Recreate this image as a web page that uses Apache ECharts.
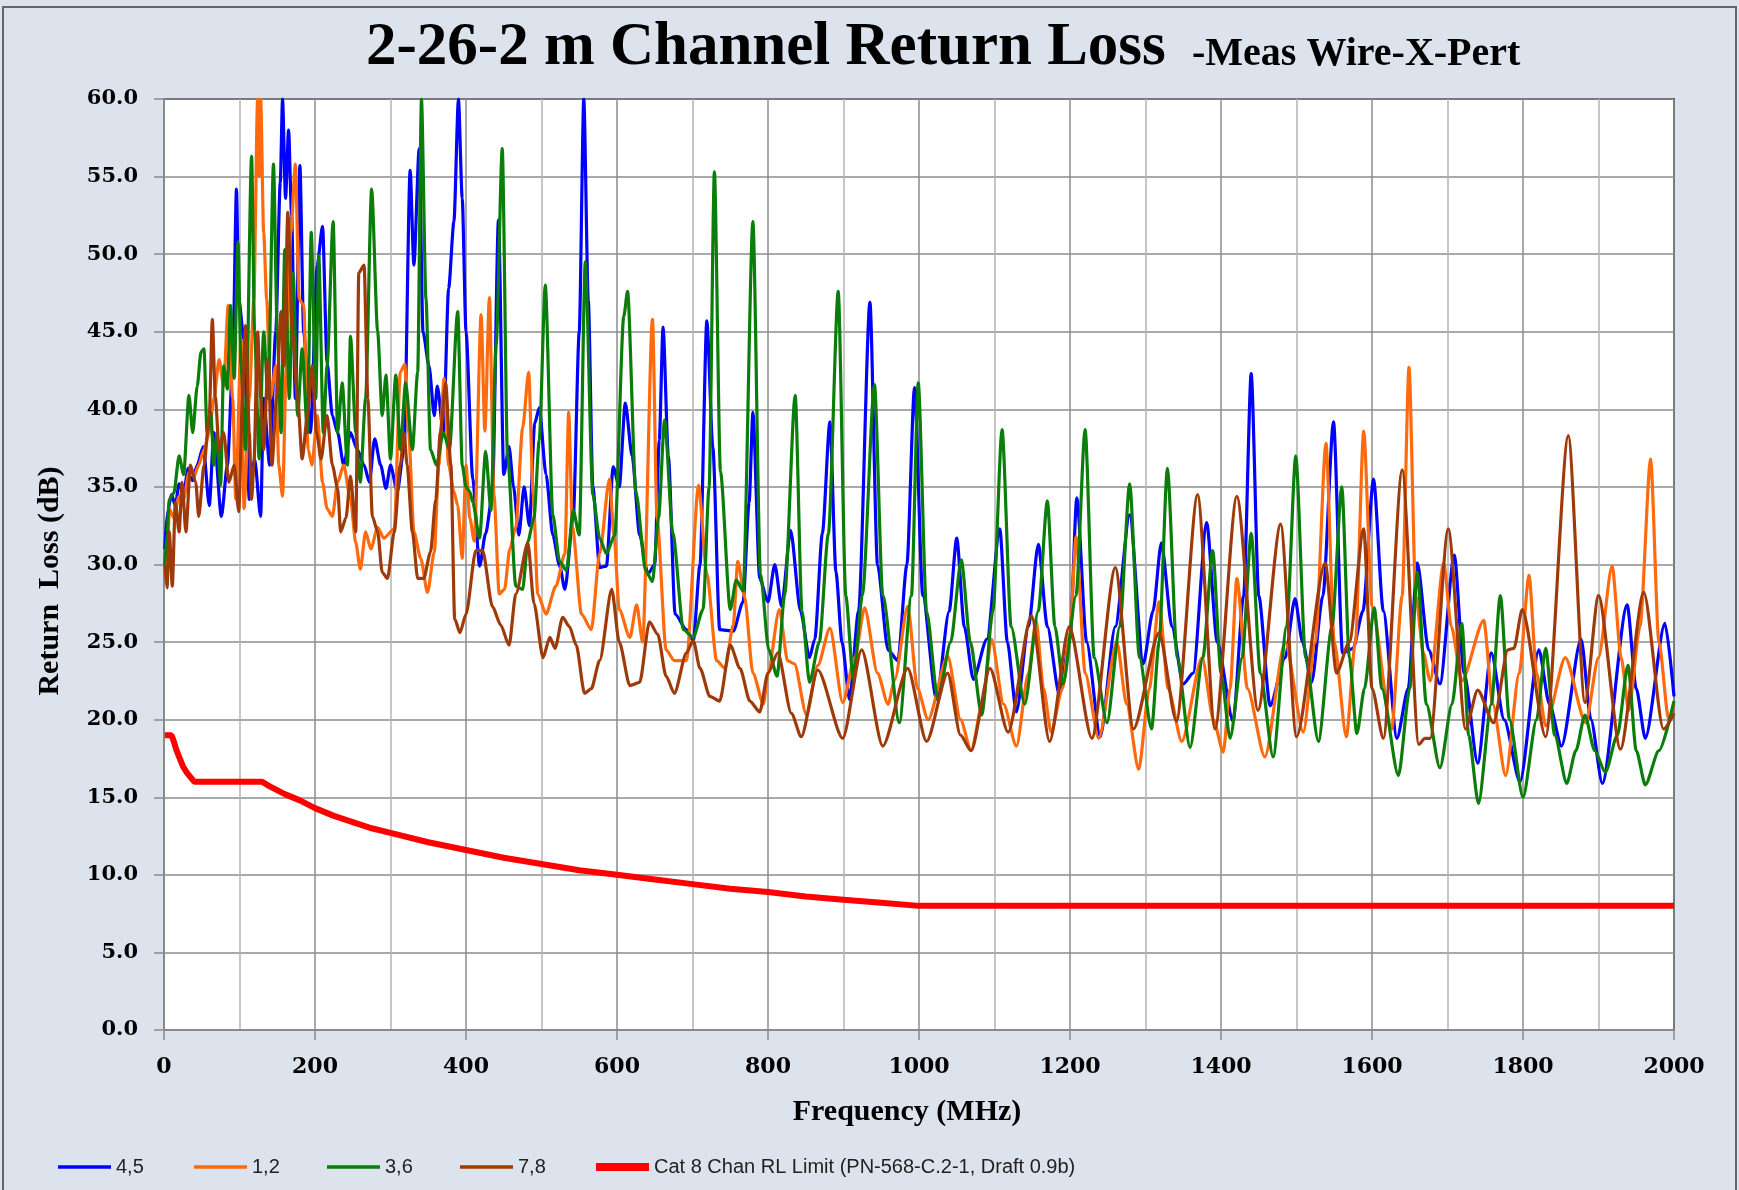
<!DOCTYPE html>
<html>
<head>
<meta charset="utf-8">
<script src="https://cdn.jsdelivr.net/npm/echarts@6/dist/echarts.min.js"></script>
<style>
html,body{margin:0;padding:0;background:#dde3ec;}
#c{width:1739px;height:1190px;}
</style>
</head>
<body>
<div id="c"></div>
<script>
// ---- Data: [frequency MHz, return loss dB] ----
const xTicks = [0, 200, 400, 600, 800, 1000, 1200, 1400, 1600, 1800, 2000];
const yTicks = [0, 5, 10, 15, 20, 25, 30, 35, 40, 45, 50, 55, 60];

const pair45 = [
[1,31],[5,33.5],[10,34.5],[15,33.8],[20,35.2],[26,34.6],[32,36.2],[38,35.4],[44,36.4],[52,37.6],[60,33.8],[66,38.5],[76,33.1],[84,36.4],[91,42.8],[96,54.2],[99,47.1],[106,44.5],[113,34.2],[120,36.8],[128,33.1],[132,40.7],[140,36.4],[148,45.0],[154,54.6],[157,60],[161,53.6],[165,58],[169,52.5],[174,40.7],[180,55.7],[185,45.0],[194,38.5],[203,49.3],[210,51.8],[216,43],[223,39.6],[230,38.5],[238,36.4],[247,38.5],[256,37.4],[265,36.4],[272,35.3],[279,38.1],[287,36.4],[294,34.9],[300,36.4],[309,34.7],[318,37.5],[326,55.4],[331,49.3],[338,56.8],[343,45.0],[351,42.8],[358,39.6],[362,41.5],[370,38.5],[377,47.8],[384,52.1],[390,60],[395,53.6],[400,45.0],
[409,35.5],[418,29.9],[426,32],[435,34.5],[443,52.2],[450,35.8],[457,37.6],[463,35],[470,31.9],[477,35.0],[484,32.5],[491,39.1],[497,40.1],[506,35.8],[515,31.9],[524,29.9],[531,28.4],[542,33],[550,45],[556,60],[562,47],[568,35],[577,29.8],[586,29.9],[595,36.3],[603,35.0],[611,40.4],[620,37.0],[630,31.9],[641,29.4],[650,30],[656,38],[661,45.3],[668,37],[677,26.8],[692,25.8],[701,25.1],[710,30],[719,45.7],[727,37.5],[736,25.8],[754,25.7],[767,27.6],[775,34],[780,39.8],[789,29.1],[800,27.6],
[809,30.0],[818,27.3],[830,32.2],[843,27],[855,24.0],[862,25.2],[872,32],[882,39.2],[890,29.5],[898,25],[908,21.3],[920,27],[935,46.9],[945,30],[959,24.5],[972,23.8],[984,30],[994,41.4],[1005,28],[1023,21.3],[1040,27],[1050,31.7],[1060,26],[1072,22.6],[1090,25.2],[1107,32.3],[1117,25],[1129,20.5],[1145,26],[1158,31.3],[1170,26],[1186,21.6],[1200,25.2],
[1209,34.3],[1222,25],[1240,18.9],[1260,26],[1279,33.2],[1297,23.6],[1310,27],[1321,31.4],[1335,26],[1350,22.3],[1363,23],[1381,32.7],[1395,25],[1416,19.9],[1430,28],[1440,42.3],[1450,28],[1465,20.9],[1485,24],[1498,27.8],[1508,25],[1520,22.4],[1535,28],[1549,39.2],[1561,24.3],[1575,24.6],[1588,27],[1602,35.5],
[1615,27],[1633,18.8],[1648,22],[1660,30.1],[1675,24.5],[1690,22.3],[1709,30.6],[1722,23],[1740,17.2],[1758,24.3],[1775,20],[1796,16.0],[1821,24.5],[1835,21],[1851,18.3],[1877,25.2],[1890,20],[1905,15.9],[1938,27.4],[1950,22],[1962,18.8],[1988,26.2],[2000,21.5]
];

const pair12 = [
[1,30],[4,29],[7,33.6],[13,33],[20,34.4],[26,34.2],[33,35.9],[40,35.7],[46,36.4],[53,37.4],[60,38.5],[66,40.7],[73,43.2],[79,41.5],[85,46.7],[91,40.7],[95,34.2],[102,44.5],[106,33.6],[113,40.7],[119,47.1],[124,60],[126,55],[128,60],[132,51.4],[136,47.1],[141,40.7],[148,42.8],[152,36.4],[157,34.4],[162,42.8],[168,51.4],[174,55.8],[179,47.1],[185,46.7],[191,37.4],[196,36.4],[203,39.6],[210,35.3],[216,33.6],[223,33.1],[230,35.3],[238,36.4],[247,34.2],[254,31.4],[260,29.7],[267,32.1],[274,31],[283,32.4],[291,31.7],[305,32.3],[313,42.4],[319,42.9],[324,38.5],[331,32.1],[340,30.4],[349,28.2],[358,30.8],[364,36.4],[371,42.0],[377,36.4],[384,34.7],[389,33.8],[395,30.4],[400,36.4],
[405,33],[411,31.5],[420,46.1],[425,38.6],[431,47.2],[437,34.5],[444,28.1],[451,28.4],[458,31],[466,32.4],[475,38.8],[483,42.4],[489,34.5],[495,28.1],[506,26.8],[519,28.6],[531,30.7],[536,39.8],[541,32.4],[553,26.8],[566,25.8],[577,30.7],[590,35.5],[596,31.9],[603,27.1],[617,25.3],[626,27.4],[634,25],[647,45.8],[653,33],[665,24.5],[676,23.8],[692,23.8],[708,35.1],[719,29.4],[732,23.8],[743,23.3],[754,26.1],[760,30.2],[769,27.9],[780,23.0],[794,21.0],[800,23],
[815,27.1],[826,23.8],[835,23.6],[851,20.3],[866,23.5],[882,25.9],[899,21.1],[915,24],[928,27.2],[945,23.0],[959,21.0],[968,22.6],[985,27.3],[998,22],[1012,20.0],[1038,24.1],[1055,20],[1069,18.0],[1084,21],[1096,25.2],[1112,21],[1129,18.3],[1145,23],[1155,26.4],[1165,22],[1175,19.2],[1190,22],[1200,25.6],
[1208,31.8],[1220,23],[1238,18.8],[1262,25],[1275,21],[1291,16.8],[1305,22],[1318,27.6],[1330,22],[1348,18.6],[1375,24],[1390,20],[1403,17.9],[1412,22],[1421,29.1],[1435,22],[1458,17.6],[1485,25],[1509,19.2],[1525,25],[1539,37.8],[1550,25],[1566,18.9],[1578,25],[1589,38.6],[1600,27.3],
[1626,19.4],[1640,28],[1649,42.7],[1658,28],[1668,24.3],[1677,22.5],[1695,30.1],[1705,26],[1719,22.5],[1748,26.4],[1760,21],[1777,16.4],[1795,23],[1808,29.3],[1818,23],[1830,19.6],[1856,24],[1883,19.8],[1900,24],[1918,29.9],[1930,24],[1940,20.6],[1955,26],[1969,36.8],[1980,25],[1993,20],[2000,21]
];

const pair36 = [
[1,30],[4,32],[7,34.2],[13,34.6],[20,37.0],[26,35.8],[33,40.9],[38,38.5],[44,41.5],[49,43.7],[53,43.9],[57,38.5],[62,39.8],[66,36.4],[70,38.5],[75,35.1],[79,42.8],[84,41.3],[88,46.7],[93,42],[98,50.8],[102,42.8],[108,37.4],[116,56.3],[120,45.0],[126,36.8],[132,45.0],[138,40.7],[145,55.8],[150,45],[155,38.5],[160,50.3],[166,40.7],[171,48.8],[177,39.6],[183,43.9],[190,38.5],[195,51.4],[201,40.7],[205,49.9],[211,38.5],[216,42.8],[224,52.1],[230,38.5],[236,41.7],[243,36.4],[247,44.7],[254,38.5],[260,35.3],[267,40.7],[275,54.2],[283,45.0],[289,39.6],[294,42.2],[300,36.8],[307,42.2],[313,37.4],[320,41.7],[329,37.4],[336,42.4],[341,60],[347,47.1],[353,37.4],[361,36.4],[370,38.5],[378,37.4],[389,46.3],[395,36.4],[400,35],
[405,34.7],[409,34.0],[418,31.7],[426,37.3],[433,33.5],[440,44.2],[448,56.8],[455,37.0],[466,28.6],[475,28.4],[482,31.5],[490,33],[497,38],[505,48.0],[515,33.2],[524,30.2],[533,29.6],[542,33.5],[550,31.9],[558,49.5],[568,34.5],[577,31.7],[586,30.7],[597,31.9],[609,46.0],[614,47.6],[625,34.7],[638,29.6],[647,28.9],[655,33],[663,39.3],[674,32],[688,25.8],[701,25.3],[714,27.1],[722,35],[729,55.3],[737,36],[750,27.1],[758,29.0],[767,28.3],[780,52.1],[790,29.4],[801,24.5],
[812,22.8],[822,28],[836,40.9],[845,27],[855,22.4],[868,25],[880,32],[893,47.6],[903,28],[913,22.6],[925,28],[941,41.6],[952,28],[974,19.8],[990,28],[999,41.7],[1010,27],[1025,21.3],[1042,25],[1056,30.3],[1068,25],[1083,20.3],[1098,27],[1110,38.7],[1122,26],[1140,21.0],[1158,27],[1170,34.1],[1180,26],[1191,22.3],
[1208,28],[1220,38.7],[1232,24],[1249,19.8],[1266,26],[1279,35.2],[1292,24],[1308,19.4],[1318,25],[1329,36.2],[1342,24],[1359,18.2],[1376,24],[1389,30.9],[1400,23],[1412,18.8],[1428,24],[1440,32.0],[1452,23],[1469,17.6],[1487,26],[1499,37.0],[1512,24],[1529,18.6],[1547,26],[1560,35.0],[1570,24],[1580,19.1],[1590,22],[1603,27.2],
[1613,22],[1635,16.4],[1650,22],[1660,29.5],[1672,21],[1690,16.9],[1706,21],[1719,26.2],[1728,19],[1741,14.6],[1758,21],[1770,28.0],[1782,20],[1800,15.0],[1818,20],[1830,24.6],[1842,19],[1858,15.9],[1870,18],[1882,20.3],[1895,18],[1909,16.6],[1925,19],[1939,23.5],[1950,18],[1962,15.8],[1980,18],[2000,21.2]
];

const pair78 = [
[1,30],[4,28.5],[7,32.1],[11,28.6],[15,34],[20,32.1],[24,35.3],[29,32.1],[35,36.4],[42,35.3],[46,33.1],[53,36.4],[60,39.6],[64,45.8],[68,40.8],[73,37.4],[79,38.5],[86,35.3],[93,36.4],[99,33.4],[104,40.7],[108,45.4],[113,38.5],[116,34.2],[119,36.4],[124,45.0],[128,40.7],[132,37.4],[138,43.2],[143,36.4],[149,40.7],[155,46.3],[159,42.8],[164,52.7],[170,45],[177,40.7],[183,36.8],[190,39.6],[196,42.8],[202,38.5],[208,36.8],[216,39.6],[223,36.4],[230,34.9],[234,32.1],[241,33],[247,35.7],[254,32.1],[258,48.8],[265,49.3],[270,40.7],[276,33.1],[283,32.1],[289,29.5],[296,29.1],[305,32.1],[313,36.4],[318,38.5],[322,36.4],[329,32.1],[336,29.1],[344,29.1],[353,30.8],[360,34.2],[366,38.5],[373,41.7],[380,36.4],[385,26.5],[392,25.6],[400,26.8],
[413,30.9],[422,30.9],[435,27.3],[446,26.1],[457,24.8],[466,28.1],[482,31.4],[490,27.5],[502,24.0],[511,25.3],[518,24.6],[528,26.6],[537,26],[546,24.8],[557,21.7],[566,22],[577,23.8],[593,28.4],[603,25],[617,22.2],[630,22.4],[643,26.3],[654,25.5],[665,22.8],[676,21.7],[692,24.3],[701,25.1],[710,23.3],[723,21.5],[736,21.2],[750,24.8],[763,23.3],[776,21.2],[789,20.5],[800,23.0],
[813,24.3],[831,20.4],[844,18.9],[866,23.2],[899,18.8],[924,24.5],[952,18.3],[985,23.3],[1010,18.6],[1038,23.0],[1055,19],[1069,18.0],[1094,23.3],[1118,19.2],[1149,26.7],[1173,18.6],[1199,26],
[1229,18.8],[1260,29.8],[1284,19.4],[1318,25.6],[1341,19.9],[1369,34.5],[1392,19.4],[1421,34.4],[1449,20.6],[1479,32.6],[1500,18.9],[1538,30.1],[1553,23.0],[1570,25],[1589,32.3],
[1600,22],[1615,18.8],[1640,36.1],[1662,18.4],[1670,18.8],[1677,18.8],[1701,32.3],[1724,19.4],[1740,21.9],[1761,19.8],[1780,24.5],[1788,24.6],[1799,27.1],[1830,18.9],[1860,38.3],[1882,21.1],[1900,28.0],[1929,18.1],[1960,28.2],[1986,19.4],[2000,20.4]
];

const limitCat8 = [
[1,19],[10,19],[13,18.6],[16,18.1],[20,17.6],[25,17.0],[30,16.6],[35,16.3],[40,16],[130,16],[140,15.7],[160,15.2],[180,14.8],[200,14.3],[225,13.8],[250,13.4],[275,13.0],[300,12.7],[350,12.1],[400,11.6],[450,11.1],[500,10.7],[550,10.3],[600,10.0],[650,9.7],[700,9.4],[750,9.1],[800,8.9],[850,8.6],[900,8.4],[950,8.2],[1000,8.0],[2000,8.0]
];

const seriesNames = ['4,5', '1,2', '3,6', '7,8', 'Cat 8 Chan RL Limit (PN-568-C.2-1, Draft 0.9b)'];
const seriesColors = ['#0000ff', '#ff6a0e', '#0a7d0a', '#9e3a0a', '#ff0000'];
const seriesData = [pair45, pair12, pair36, pair78, limitCat8];

// ---- Chart ----
const chart = echarts.init(document.getElementById('c'), null, {renderer: 'canvas'});
const serif = '"Liberation Serif", "Times New Roman", serif';
const wideSerif = '"DejaVu Serif", serif';

const legendLefts = [58, 194, 327, 460, 596];
const legends = seriesNames.map((n, i) => ({
  data: [{name: n, icon: 'rect'}],
  left: legendLefts[i],
  top: 1157,
  padding: 0,
  itemWidth: 53,
  itemHeight: i === 4 ? 8 : 3.5,
  itemGap: 0,
  selectedMode: false,
  textStyle: {fontFamily: '"Liberation Sans", Arial, sans-serif', fontSize: 20, color: '#222'}
}));

const series = seriesData.map((d, i) => ({
  name: seriesNames[i],
  type: 'line',
  data: d,
  showSymbol: false,
  symbol: 'none',
  smooth: i === 4 ? false : 0.25,
  smoothMonotone: 'x',
  clip: true,
  animation: false,
  lineStyle: {color: seriesColors[i], width: i === 4 ? 6 : 3.2},
  itemStyle: {color: seriesColors[i]},
  z: 2 + i
}));

chart.setOption({
  backgroundColor: '#dde3ec',
  animation: false,
  grid: {left: 164, right: 65, top: 99, bottom: 160, show: true, backgroundColor: '#ffffff', borderColor: '#444', borderWidth: 2},
  graphic: [
    {type: 'rect', shape: {x: 3, y: 7, width: 1733, height: 1200}, style: {fill: 'none', stroke: '#666', lineWidth: 2}, silent: true, z: 100},
    {type: 'text', x: 366, y: 48, style: {text: '2-26-2 m Channel Return Loss', font: 'bold 61px ' + serif, fill: '#000', verticalAlign: 'middle', align: 'left'}},
    {type: 'text', x: 1192, y: 55, style: {text: '-Meas Wire-X-Pert', font: 'bold 40px ' + serif, fill: '#000', verticalAlign: 'middle', align: 'left'}},
    {type: 'text', x: 50, y: 581, rotation: Math.PI / 2, style: {text: 'Return  Loss (dB)', font: 'bold 30px ' + serif, fill: '#000', verticalAlign: 'middle', align: 'center'}},
    {type: 'text', x: 907, y: 1112, style: {text: 'Frequency (MHz)', font: 'bold 30px ' + serif, fill: '#000', verticalAlign: 'middle', align: 'center'}}
  ],
  legend: legends,
  xAxis: {
    type: 'value', min: 0, max: 2000, interval: 200,
    axisLine: {show: true, onZero: false, lineStyle: {color: '#8a8a8a', width: 2}},
    axisTick: {show: true, inside: false, length: 10, lineStyle: {color: '#8a8a8a', width: 1.5}},
    axisLabel: {margin: 26, fontFamily: wideSerif, fontWeight: 'bold', fontSize: 22, color: '#000', formatter: v => String(v)},
    splitLine: {show: true, lineStyle: {color: '#8c8c8c', width: 1.5}},
    minorTick: {show: false, splitNumber: 2},
    minorSplitLine: {show: true, lineStyle: {color: '#b4b4b4', width: 1.5}}
  },
  yAxis: {
    type: 'value', min: 0, max: 60, interval: 5,
    axisLine: {show: true, lineStyle: {color: '#8a8a8a', width: 2}},
    axisTick: {show: true, inside: false, length: 10, lineStyle: {color: '#8a8a8a', width: 1.5}},
    axisLabel: {margin: 26, fontFamily: wideSerif, fontWeight: 'bold', fontSize: 21, color: '#000', formatter: v => v.toFixed(1)},
    splitLine: {show: true, lineStyle: {color: '#8c8c8c', width: 1.5}}
  },
  series: series
});
</script>
</body>
</html>
